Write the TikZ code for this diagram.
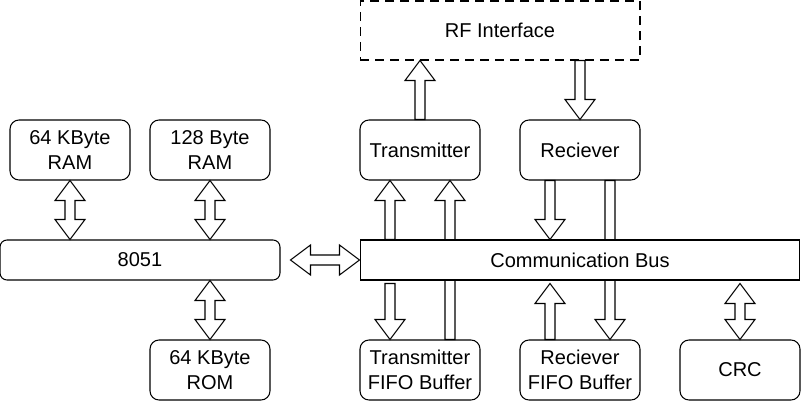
\documentclass[tikz,border=0pt]{standalone}
\usepackage{fontspec}
\setmainfont{Liberation Sans}
\usetikzlibrary{calc}

\begin{document}
\begin{tikzpicture}[x=0.02cm, y=-0.02cm, line width=0.6pt,
    every node/.style={inner sep=2pt, font=\fontsize{11.4}{14}\selectfont},
    block/.style={draw, rounded corners=0.18cm, minimum width=2.4cm, minimum height=1.2cm, align=center},
    onearrow/.style={draw, fill=white, to path={
        (\tikztostart) coordinate (as) (\tikztotarget) coordinate (at)
        ($(at)!0.4cm!(as)$) coordinate (ah)
        ($(as)!0.1cm!90:(at)$) -- ($(ah)!0.1cm!90:(at)$) -- ($(ah)!0.3cm!90:(at)$) -- (at)
        -- ($(ah)!0.3cm!-90:(at)$) -- ($(ah)!0.1cm!-90:(at)$) -- ($(as)!0.1cm!-90:(at)$) -- cycle}},
    twoarrow/.style={draw, fill=white, to path={
        (\tikztostart) coordinate (as) (\tikztotarget) coordinate (at)
        ($(as)!0.4cm!(at)$) coordinate (ahs)
        ($(at)!0.4cm!(as)$) coordinate (aht)
        (as) -- ($(ahs)!0.3cm!90:(at)$) -- ($(ahs)!0.1cm!90:(at)$)
        -- ($(aht)!0.1cm!-90:(as)$) -- ($(aht)!0.3cm!-90:(as)$) -- (at)
        -- ($(aht)!0.3cm!90:(as)$) -- ($(aht)!0.1cm!90:(as)$)
        -- ($(ahs)!0.1cm!-90:(at)$) -- ($(ahs)!0.3cm!-90:(at)$) -- cycle}}]
    \useasboundingbox (0,0) rectangle (802,402);

    % nodes
    \node[draw, dash pattern=on 0.18cm off 0.12cm, minimum width=5.6cm, minimum height=1.18cm] (rf) at (500,30.5) {RF Interface};

    \node[block] (ram64)  at ( 70,150) {64 KByte\\RAM};
    \node[block] (ram128) at (210,150) {128 Byte\\RAM};
    \node[block] (tx)     at (420,150) {Transmitter};
    \node[block] (rx)     at (580,150) {Reciever};

    \node[block] (rom)    at (210,370) {64 KByte\\ROM};
    \node[block] (txfifo) at (420,370) {Transmitter\\FIFO Buffer};
    \node[block] (rxfifo) at (580,370) {Reciever\\FIFO Buffer};
    \node[block] (crc)    at (740,370) {CRC};

    % long arrows behind the bus
    \draw[onearrow] ([xshift=0.6cm]txfifo.north) to ([xshift=0.6cm]tx.south);
    \draw[onearrow] ([xshift=0.6cm]rx.south) to ([xshift=0.6cm]rxfifo.north);

    \node[draw, rounded corners=0.14cm, minimum width=5.6cm, minimum height=0.8cm] (cpu) at (140,260) {8051};
    \node[draw, fill=white, minimum width=8.8cm, minimum height=0.8cm] (bus) at (580,260) {Communication Bus};
    \coordinate (busgap) at ([yshift=-0.06cm]bus.south);

    % radio side
    \draw[onearrow] (tx.north) to (tx.north |- rf.south);
    \draw[onearrow] (rx.north |- rf.south) to (rx.north);

    % bus to transmitter and reciever
    \draw[onearrow] ([xshift=-0.6cm]tx.south |- bus.north) to ([xshift=-0.6cm]tx.south);
    \draw[onearrow] ([xshift=-0.6cm]rx.south) to ([xshift=-0.6cm]rx.south |- bus.north);

    % bus to buffers and crc
    \draw[onearrow] ([xshift=-0.6cm]txfifo.north |- busgap) to ([xshift=-0.6cm]txfifo.north);
    \draw[onearrow] ([xshift=-0.6cm]rxfifo.north) to ([xshift=-0.6cm]rxfifo.north |- busgap);
    \draw[twoarrow] (crc.north |- busgap) to (crc.north);

    % memories
    \draw[twoarrow] (ram64.south) to (ram64.south |- cpu.north);
    \draw[twoarrow] (ram128.south) to (ram128.south |- cpu.north);
    \draw[twoarrow] (rom.north |- cpu.south) to (rom.north);

    % 8051 to bus
    \draw[twoarrow] ([xshift=0.2cm]cpu.east) to (bus.west);
\end{tikzpicture}
\end{document}
